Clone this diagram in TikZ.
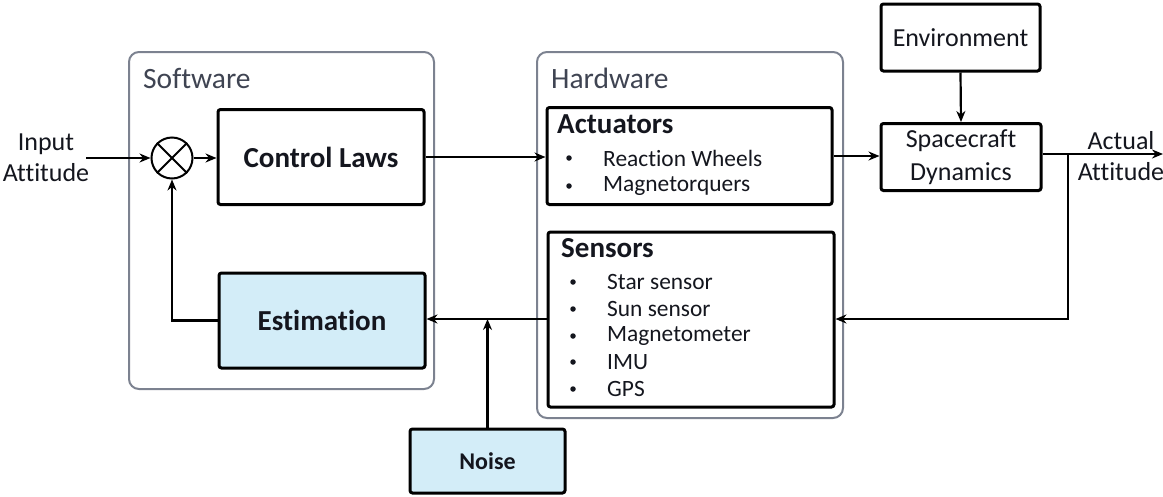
\documentclass[tikz,border=0pt]{standalone}
\usepackage{fontspec}
\setmainfont[Ligatures=NoCommon]{Carlito}
\usetikzlibrary{arrows.meta,calc,shapes.misc}
\definecolor{grpc}{HTML}{7C8290}
\definecolor{lblue}{HTML}{D3EDF8}
\definecolor{txtg}{HTML}{3F4452}
\definecolor{txtk}{HTML}{14161E}
\begin{document}
\begin{tikzpicture}[x=1pt,y=-1pt,
  blk/.style={draw=black, line width=3pt, rounded corners=2.5pt, inner sep=0pt, align=center, text=txtk},
  grp/.style={draw=grpc, line width=2pt, rounded corners=10pt},
  arr/.style={line width=2.2pt, -{Stealth[length=11pt,width=9pt]}},
  big/.style={font=\fontsize{29}{32}\selectfont\bfseries},
  med/.style={font=\fontsize{26}{31}\selectfont, text=txtk},
  grplbl/.style={font=\fontsize{29.5}{32}\selectfont, text=txtg, anchor=west, inner sep=0pt}]
\useasboundingbox (0,0) rectangle (1163,496);

% groups
\draw[grp] (129,52) rectangle (434,389);
\draw[grp] (537,52) rectangle (843,418);
\node[grplbl] (swl) at (143,78) {Software};
\node[grplbl] (hwl) at (551,78) {Hardware};

% blocks
\node[blk, big, minimum width=206pt, minimum height=95pt] (cl) at (321,157) {Control Laws};
\node[blk, big, fill=lblue, minimum width=206pt, minimum height=95pt] (est) at (322,320.5) {Estimation};
\node[blk, minimum width=285pt, minimum height=97pt] (act) at (689.5,156) {};
\node[blk, minimum width=286pt, minimum height=175pt] (sen) at (691,319.5) {};
\node[blk, med, minimum width=159pt, minimum height=67pt] (env) at (960.5,37.5) {Environment};
\node[blk, med, minimum width=160pt, minimum height=67pt] (sd) at (961,157) {Spacecraft\\[2pt]Dynamics};
\node[blk, font=\fontsize{24}{26}\selectfont\bfseries, fill=lblue, minimum width=155pt, minimum height=64pt] (noise) at (487.5,461) {Noise};

% sum junction
\node[draw=black, line width=2pt, circle, minimum size=41pt, inner sep=0pt] (sum) at (172,158) {};
\draw[line width=2pt] (sum.north west) -- (sum.south east) (sum.north east) -- (sum.south west);

% block contents
\node[font=\fontsize{29}{32}\selectfont\bfseries, text=txtk, anchor=west, inner sep=0pt] (acth) at (557,124) {Actuators};
\node[font=\fontsize{29}{32}\selectfont\bfseries, text=txtk, anchor=west, inner sep=0pt] (senh) at (561,248) {Sensors};
\tikzset{itm/.style={font=\fontsize{23.4}{26}\selectfont, text=txtk, anchor=west, inner sep=0pt},
  bul/.style={circle, fill=txtk, inner sep=0pt, minimum size=5.5pt}}
\node[bul] (b1) at (569,158) {}; \node[itm] (i1) at (603,158) {Reaction Wheels};
\node[bul] (b2) at (569,186) {}; \node[itm] (i2) at (603,186) {Magnetorquers};
\node[bul] (s1) at (573,282) {}; \node[itm] (j1) at (607,282) {Star sensor};
\node[bul] (s2) at (573,309) {}; \node[itm] (j2) at (607,309) {Sun sensor};
\node[bul] (s3) at (573,336) {}; \node[itm] (j3) at (607,336) {Magnetometer};
\node[bul] (s4) at (573,362) {}; \node[itm] (j4) at (607,362) {IMU};
\node[bul] (s5) at (573,389) {}; \node[itm] (j5) at (607,389) {GPS};

% outside labels
\node[med, align=center] (inp) at (46,158) {Input\\Attitude};
\node[med, align=center] (outl) at (1121,156) {Actual\\Attitude};
\coordinate (inS) at (86,158);
\coordinate (outE) at (1163,154);
\coordinate (br) at (1068,154);
\coordinate (fbC) at (1068,319);

% connectors
\draw[arr] (inS) -- (sum.west);
\draw[arr] (sum.east) -- (sum.east -| cl.west);
\draw[arr] (cl.east |- 0,157) -- (act.west |- 0,157);
\draw[arr] (act.east |- 0,156) -- (sd.west |- 0,156);
\draw[arr] (env.south) -- (sd.north);
\draw[arr] (sd.east |- outE) -- (outE);
\draw[arr] (br) -- (fbC) -- (sen.east |- fbC);
\draw[arr] (sen.west |- 0,319) -- (est.east |- 0,319);
\draw[arr] (noise.north) -- (noise.north |- 0,319);
\draw[arr] (est.west) -- (est.west -| sum.south) -- (sum.south);
\end{tikzpicture}
\end{document}
